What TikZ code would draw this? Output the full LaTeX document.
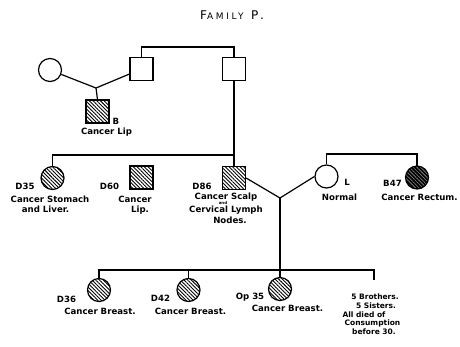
\documentclass[tikz,border=0pt]{standalone}
\usepackage{fontspec}
\setmainfont{DejaVu Sans}
\usetikzlibrary{patterns.meta}
\begin{document}
\begin{tikzpicture}[x=1pt,y=-1pt,
  line width=1.2pt,
  male/.style={draw, rectangle, minimum size=23pt, inner sep=0pt, line width=1.2pt},
  female/.style={draw, circle, minimum size=23pt, inner sep=0pt, line width=1.2pt},
  hatched/.style={pattern={Lines[angle=-45, distance=2.6pt, line width=0.9pt]}},
  dark/.style={preaction={fill=black}, pattern={Lines[angle=-45, distance=2.6pt, line width=0.6pt]}, pattern color=white!55!black},
  lbl/.style={inner sep=0pt, font=\fontsize{8.6}{10}\selectfont\bfseries},
  note/.style={inner sep=0pt, font=\fontsize{7.5}{9}\selectfont\bfseries},
  tiny/.style={inner sep=0pt, font=\fontsize{4}{5}\selectfont\bfseries}]
\useasboundingbox (0,0) rectangle (460,346);
% title
\node[inner sep=0pt, font=\fontsize{12}{14}\selectfont\addfontfeature{LetterSpace=30}] (title) at (232,15) {F{\fontsize{9}{11}\selectfont AMILY} P.};
% generation I
\node[female] (I1) at (50,70) {};
\node[male] (I2) at (141.5,69) {};
\node[male] (I3) at (234,69) {};
\coordinate (m1) at (96,88);
\coordinate (t1) at (188,47);
% generation II
\node[male, hatched] (II1) at (97.5,111.5) {};
\node[female, hatched] (II2) at (52.5,178) {};
\node[male, hatched] (II3) at (141.5,177.5) {};
\node[male, hatched] (II4) at (234,178) {};
\node[female] (II5) at (326.5,176.5) {};
\node[female, dark] (II6) at (417,177.5) {};
\coordinate (s2) at (234,155);
\coordinate (s3) at (372,154);
\coordinate (m2) at (280,198);
% generation III
\node[female, hatched] (III1) at (99,290) {};
\node[female, hatched] (III2) at (188.5,290) {};
\node[female, hatched] (III3) at (280,289) {};
\coordinate (r3) at (374,270);
\coordinate (c3) at (374,280);
% connectors
\draw (I2.north) |- (t1) -| (I3.north);
\draw (I1) -- (m1) -- (I2);
\draw (m1) -- (II1.north);
\draw (I3) -- (II4);
\draw (II2.north) |- (s2);
\draw (II4.east) -- (m2) -- (II5.west);
\draw (II5.north) |- (s3) -| (II6.north);
\draw (m2) -- (III3.north);
\draw (III1.north) |- (r3) -- (c3);
\draw (III2.north) -- (III2.north |- r3);
% labels
\node[lbl] (lB) at (116,121) {B};
\node[lbl] (lB2) at (106.5,132) {Cancer Lip};
\node[lbl] (l35) at (25,186) {D35};
\node[lbl] (l35a) at (50,199) {Cancer Stomach};
\node[lbl] (l35b) at (45.5,209) {and Liver.};
\node[lbl] (l60) at (109.5,186) {D60};
\node[lbl] (l60a) at (135,199) {Cancer};
\node[lbl] (l60b) at (140,210) {Lip.};
\node[lbl] (l86) at (202,186) {D86};
\node[lbl] (l86a) at (226,197) {Cancer Scalp};
\node[tiny] (l86b) at (223,203.5) {and};
\node[lbl] (l86c) at (226,210) {Cervical Lymph};
\node[lbl] (l86d) at (230,220) {Nodes.};
\node[lbl] (lL) at (347,182) {L};
\node[lbl] (lLa) at (339.5,197) {Normal};
\node[lbl] (l47) at (392.5,183) {B47};
\node[lbl] (l47a) at (419.5,197) {Cancer Rectum.};
\node[lbl] (l36) at (66.5,299) {D36};
\node[lbl] (l36a) at (100,311) {Cancer Breast.};
\node[lbl] (l42) at (160.5,298) {D42};
\node[lbl] (l42a) at (190.5,311) {Cancer Breast.};
\node[lbl] (lop) at (250,297) {Op 35};
\node[lbl] (lopa) at (287.5,308) {Cancer Breast.};
\node[note] (n1) at (375,297) {5 Brothers.};
\node[note] (n2) at (376,306) {5 Sisters.};
\node[note] (n3) at (364,315) {All died of};
\node[note] (n4) at (372.5,323) {Consumption};
\node[note] (n5) at (374,332) {before 30.};
\end{tikzpicture}
\end{document}
